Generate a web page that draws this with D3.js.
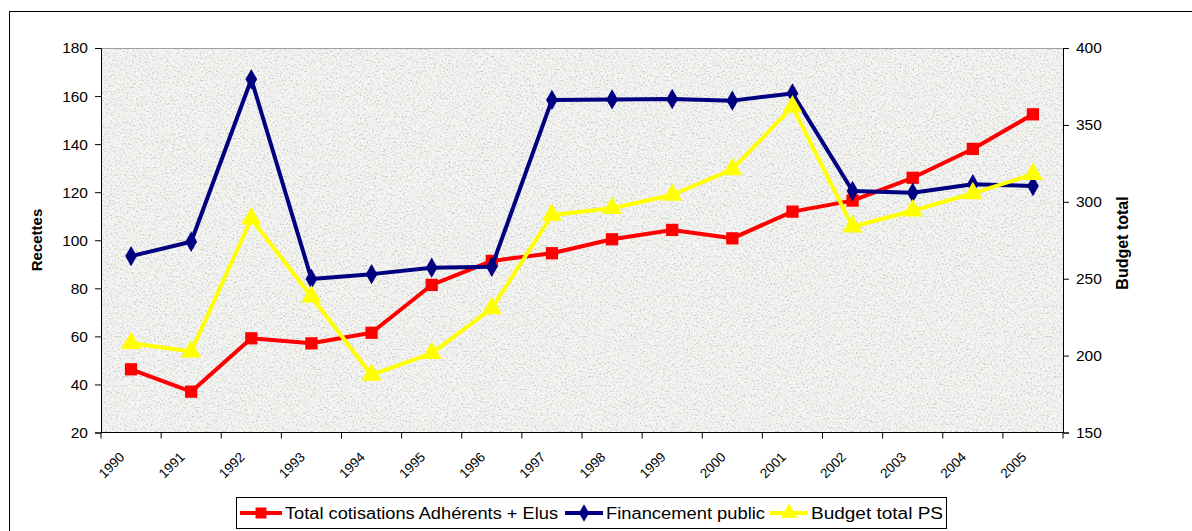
<!DOCTYPE html>
<html><head><meta charset="utf-8">
<script src="https://cdn.jsdelivr.net/npm/d3@7"></script>
<style>
html,body{margin:0;padding:0;background:#fff;}
svg{display:block;font-family:"Liberation Sans",Arial,sans-serif;}
</style></head>
<body>
<svg id="chart" width="1192" height="531"></svg>
<script>
const years = ["1990","1991","1992","1993","1994","1995","1996","1997","1998","1999","2000","2001","2002","2003","2004","2005"];
const cotisations = [46.3,37,59.2,57.1,61.5,81.4,91.4,94.6,100.4,104.3,100.8,111.9,116.5,126,138,152.4];
const financementPublic = [93.4,99.4,167,83.9,85.9,88.6,89.0,158.4,158.6,158.8,158.1,161.1,120.5,119.8,123.3,122.6];
const budgetTotal = [208,202.6,289,238.3,187.4,201.5,230.7,291.4,295.8,304.4,321.1,361.9,283.8,294.2,305.5,317.9];
const leftTicks = [20,40,60,80,100,120,140,160,180];
const rightTicks = [150,200,250,300,350,400];
const seriesNames = ["Total cotisations Adhérents + Elus","Financement public","Budget total PS"];
const seriesColors = ["#FF0000","#000080","#FFFF00"];

const svg = d3.select("#chart");
const L = 101, R = 1063, T = 48, B = 432.5;

// outer border
svg.append("rect").attr("x",9.5).attr("y",11.5).attr("width",1200).attr("height",560)
  .attr("fill","none").attr("stroke","#000").attr("stroke-width",1);

// texture filter
const defs = svg.append("defs");
const f = defs.append("filter").attr("id","granite").attr("x",0).attr("y",0).attr("width","100%").attr("height","100%");
f.append("feTurbulence").attr("type","fractalNoise").attr("baseFrequency","0.55").attr("numOctaves",2).attr("seed",7).attr("result","n");
f.append("feColorMatrix").attr("in","n").attr("type","matrix")
  .attr("values","0 0 0 0 0.58  0 0 0 0 0.58  0 0 0 0 0.56  -3.2 0 0 0 1.62")
  .attr("result","spots");
f.append("feComposite").attr("in","spots").attr("in2","SourceGraphic").attr("operator","in").attr("result","sp");
f.append("feMerge").call(m=>{m.append("feMergeNode").attr("in","SourceGraphic");m.append("feMergeNode").attr("in","sp");});

svg.append("rect").attr("x",L).attr("y",T).attr("width",R-L).attr("height",B-T).attr("fill","#F4F4F2").attr("filter","url(#granite)");
svg.append("line").attr("x1",L).attr("x2",R).attr("y1",T+0.5).attr("y2",T+0.5).attr("stroke","#A0A0A0");

const x = d3.scaleBand().domain(years).range([L,R]).padding(0);
const yL = d3.scaleLinear().domain([20,180]).range([B,T]);
const yR = d3.scaleLinear().domain([150,400]).range([B,T]);

// axes
const gl = svg.append("g").attr("transform",`translate(${L},0)`)
  .call(d3.axisLeft(yL).tickValues(leftTicks).tickSize(6).tickPadding(7));
const gr = svg.append("g").attr("transform",`translate(${R},0)`)
  .call(d3.axisRight(yR).tickValues(rightTicks).tickSize(6).tickPadding(7));
[gl,gr].forEach(g=>{
  g.attr("font-size",null).attr("font-family",null);
  g.select(".domain").attr("stroke","#000");
  g.selectAll(".tick line").attr("stroke","#000");
  g.selectAll(".tick text").style("font-size","15.5px").attr("fill","#000");
});

// bottom axis: ticks at band boundaries
const gb = svg.append("g");
gb.append("line").attr("x1",L).attr("x2",R).attr("y1",B).attr("y2",B).attr("stroke","#000");
const bounds = years.map(d=>x(d)).concat([R]);
gb.selectAll("line.tk").data(bounds).join("line").attr("class","tk")
  .attr("x1",d=>d).attr("x2",d=>d).attr("y1",B).attr("y2",B+6).attr("stroke","#000");
gb.selectAll("text").data(years).join("text")
  .attr("transform",d=>`translate(${x(d)+x.bandwidth()/2-9},${B+22}) rotate(-45)`)
  .attr("text-anchor","end").attr("dy","0.35em")
  .style("font-size","13.5px").attr("fill","#000").text(d=>d);

// axis titles
svg.append("text").attr("transform","translate(42,240) rotate(-90)").attr("text-anchor","middle")
  .style("font-size","15px").attr("font-weight","bold").text("Recettes");
svg.append("text").attr("transform","translate(1128,243) rotate(-90)").attr("text-anchor","middle")
  .style("font-size","16px").attr("font-weight","bold").text("Budget total");

const cx = d=>x(d)+x.bandwidth()/2;
const lineL = d3.line().x((d,i)=>cx(years[i])).y(d=>yL(d));
const lineR = d3.line().x((d,i)=>cx(years[i])).y(d=>yR(d));

const sq = d3.symbol().type(d3.symbolSquare).size(150);
const dia = d3.symbol().type(d3.symbolDiamond).size(120);
const tri = d3.symbol().type(d3.symbolTriangle).size(175);

function drawSeries(vals, line, yScale, color, sym){
  svg.append("path").datum(vals).attr("d",line).attr("fill","none").attr("stroke",color).attr("stroke-width",4).attr("stroke-linejoin","round");
  svg.append("g").selectAll("path").data(vals).join("path")
    .attr("transform",(d,i)=>`translate(${cx(years[i])},${yScale(d)})`).attr("d",sym).attr("fill",color);
}
drawSeries(cotisations, lineL, yL, seriesColors[0], sq);
drawSeries(financementPublic, lineL, yL, seriesColors[1], dia);
drawSeries(budgetTotal, lineR, yR, seriesColors[2], tri);

// legend
const lg = svg.append("g");
lg.append("rect").attr("x",236.5).attr("y",497.5).attr("width",710).attr("height",31).attr("fill","#fff").attr("stroke","#000");
const items = [
  {x0:240, x1:282, tx:285, tw:273, sym:d3.symbol().type(d3.symbolSquare).size(120)},
  {x0:565, x1:603, tx:606, tw:159, sym:d3.symbol().type(d3.symbolDiamond).size(90)},
  {x0:770, x1:808, tx:811, tw:132, sym:d3.symbol().type(d3.symbolTriangle).size(120)}
];
items.forEach((it,i)=>{
  const yy = 513;
  lg.append("line").attr("x1",it.x0).attr("x2",it.x1).attr("y1",yy).attr("y2",yy).attr("stroke",seriesColors[i]).attr("stroke-width",4);
  lg.append("path").attr("transform",`translate(${(it.x0+it.x1)/2},${yy})`).attr("d",it.sym).attr("fill",seriesColors[i]);
  lg.append("text").attr("x",it.tx).attr("y",yy).attr("dy","0.36em").style("font-size","16px")
    .attr("textLength",it.tw).attr("lengthAdjust","spacingAndGlyphs").text(seriesNames[i]);
});
</script>
</body></html>
